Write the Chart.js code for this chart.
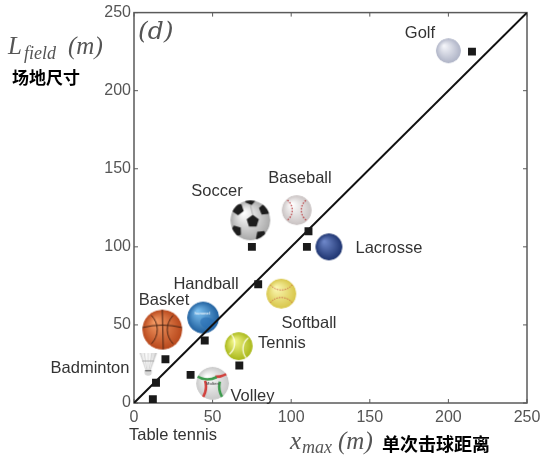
<!DOCTYPE html>
<html lang="en">
	<head>
		<meta http-equiv="content-type" content="text/html; charset=UTF-8">
		<script src="https://cdn.jsdelivr.net/npm/chart.js@4.4.1/dist/chart.umd.min.js"></script>
		<title>Field size vs hit distance</title>
		<style>
			body { margin: 0; background: #fff; }
			#wrap { position: relative; width: 551px; height: 468px; }
		</style>
	</head>
	<body>
		<div id="wrap">
			<canvas id="scatter-chart" width="551" height="468"></canvas>
		</div>
		<script>
			// values (metres)
			var sports = ["Golf", "Baseball", "Soccer", "Lacrosse", "Softball", "Handball", "Basket", "Tennis", "Volley", "Badminton", "Table tennis"];
			var xMax = [215, 111, 75, 110, 79, 45, 20, 67, 36, 14, 12];
			var lField = [225, 110, 100, 100, 76, 40, 28, 24, 18, 13, 2.5];
			// where the ball pictures sit (data units)
			var iconX = [200, 103.5, 74, 124, 93.7, 44, 18, 66.6, 50, 9, 12];
			var iconY = [225.6, 123.5, 117, 100, 70, 54.7, 47, 36.4, 12.6, 25, -9];
			// where the sport names sit (data units)
			var labelX = [181.9, 105.6, 52.8, 162.2, 111.3, 45.8, 19.1, 94.1, 75.4, -28, 24.8];
			var labelY = [236.6, 143.5, 135.2, 98.9, 51, 75.9, 65.7, 38.3, 4.5, 22.3, -21];
			var tickValues = [0, 50, 100, 150, 200, 250];

			var ballTypes = ["golf", "baseball", "soccer", "lacrosse", "softball", "handball", "basket", "tennis", "volley", "shuttle", "pingpong"];
			var ballRadius = { golf: 12.5, baseball: 15, soccer: 20, lacrosse: 13.5, softball: 15, handball: 16, basket: 20, tennis: 14, volley: 16.5, shuttle: 12, pingpong: 11 };

			function sphere(g, r, light, dark) {
				var grad = g.createRadialGradient(-r * 0.35, -r * 0.4, r * 0.05, 0, 0, r);
				grad.addColorStop(0, light);
				grad.addColorStop(1, dark);
				g.fillStyle = grad;
				g.beginPath();
				g.arc(0, 0, r, 0, Math.PI * 2);
				g.fill();
			}

			function pentagon(g, cx, cy, s, rot) {
				g.beginPath();
				for (var i = 0; i < 5; i++) {
					var a = rot + i * Math.PI * 2 / 5;
					var px = cx + s * Math.cos(a), py = cy + s * Math.sin(a);
					if (i == 0) g.moveTo(px, py); else g.lineTo(px, py);
				}
				g.closePath();
				g.fill();
			}

			function makeBall(type) {
				var r = ballRadius[type];
				var c = document.createElement("canvas");
				var w = 2 * r + 4, h = 2 * r + 4;
				if (type == "shuttle") { w = 22; h = 28; }
				c.width = w; c.height = h;
				var g = c.getContext("2d");
				g.translate(w / 2, h / 2);
				if (type == "shuttle") {
					// feather skirt
					var sg = g.createLinearGradient(-9, 0, 9, 0);
					sg.addColorStop(0, "#e4e4e4");
					sg.addColorStop(0.5, "#ffffff");
					sg.addColorStop(1, "#cfcfcf");
					g.fillStyle = sg;
					g.beginPath();
					g.moveTo(-9, -11); g.lineTo(9, -11); g.lineTo(3, 6); g.lineTo(-3, 6); g.closePath();
					g.fill();
					g.strokeStyle = "#bdbdbd"; g.lineWidth = 0.6;
					for (var k = -2; k <= 2; k++) {
						g.beginPath(); g.moveTo(k * 3.8, -11); g.lineTo(k * 1.1, 6); g.stroke();
					}
					g.strokeStyle = "#aaa"; g.lineWidth = 1;
					g.beginPath(); g.moveTo(-6, -3); g.lineTo(6, -3); g.stroke();
					// cork
					g.fillStyle = "#d6d6d6";
					g.beginPath(); g.ellipse(0, 8.5, 3.6, 3.2, 0, 0, Math.PI * 2); g.fill();
					g.fillStyle = "#777";
					g.fillRect(-3.2, 6, 6.4, 1.4);
					return c;
				}
				g.save();
				g.beginPath(); g.arc(0, 0, r, 0, Math.PI * 2); g.clip();
				if (type == "golf") {
					sphere(g, r, "#f4f5fa", "#aeb3c6");
				} else if (type == "baseball") {
					sphere(g, r, "#ffffff", "#c9c2c2");
					g.strokeStyle = "#b8383c"; g.lineWidth = 1.2; g.setLineDash([1.5, 1.5]);
					g.beginPath(); g.arc(-r * 1.15, 0, r * 0.85, -0.9, 0.9); g.stroke();
					g.beginPath(); g.arc(r * 1.15, 0, r * 0.85, Math.PI - 0.9, Math.PI + 0.9); g.stroke();
					g.setLineDash([]);
				} else if (type == "soccer") {
					sphere(g, r, "#ffffff", "#a9a9a9");
					g.fillStyle = "#1d1d1d";
					pentagon(g, r * 0.12, r * 0.05, r * 0.32, -Math.PI / 2);
					pentagon(g, -r * 0.62, -r * 0.55, r * 0.3, 0.3);
					pentagon(g, r * 0.72, -r * 0.55, r * 0.3, -0.4);
					pentagon(g, -r * 0.72, r * 0.55, r * 0.3, 0.6);
					pentagon(g, r * 0.55, r * 0.8, r * 0.3, 0.2);
					pentagon(g, 0, -r * 1.05, r * 0.3, 0.1);
					g.strokeStyle = "#8d8d8d"; g.lineWidth = 0.6;
					g.beginPath(); g.moveTo(r * 0.12, -r * 0.27); g.lineTo(0, -r * 0.75); g.stroke();
				} else if (type == "lacrosse") {
					sphere(g, r, "#6d86c8", "#1e3470");
				} else if (type == "softball") {
					sphere(g, r, "#fbf7b0", "#d8c64a");
					g.strokeStyle = "#c0453a"; g.lineWidth = 1; g.setLineDash([1.2, 1.4]);
					g.beginPath(); g.arc(0, -r * 1.2, r * 0.95, 0.5, Math.PI - 0.5); g.stroke();
					g.beginPath(); g.arc(0, r * 1.2, r * 0.95, Math.PI + 0.5, -0.5); g.stroke();
					g.setLineDash([]);
				} else if (type == "handball") {
					sphere(g, r, "#7cc0f0", "#1f5f9e");
					g.fillStyle = "rgba(40,110,180,0.6)";
					g.beginPath(); g.ellipse(r * 0.3, r * 0.35, r * 0.5, r * 0.35, 0.4, 0, Math.PI * 2); g.fill();
					g.fillStyle = "#e8f2fb"; g.font = "bold 4px 'Liberation Sans'"; g.textAlign = "center";
					g.fillText("hummel", -r * 0.05, -r * 0.2);
				} else if (type == "basket") {
					sphere(g, r, "#f49a64", "#b8481c");
					g.strokeStyle = "#4a2414"; g.lineWidth = 1;
					g.beginPath(); g.moveTo(-r, -r * 0.1); g.quadraticCurveTo(0, -r * 0.35, r, -r * 0.1); g.stroke();
					g.beginPath(); g.moveTo(0, -r); g.lineTo(r * 0.05, r); g.stroke();
					g.beginPath(); g.arc(-r * 1.25, 0, r * 1.0, -0.8, 0.8); g.stroke();
					g.beginPath(); g.arc(r * 1.25, 0, r * 1.0, Math.PI - 0.8, Math.PI + 0.8); g.stroke();
				} else if (type == "tennis") {
					sphere(g, r, "#f4f78a", "#a9b81a");
					g.strokeStyle = "rgba(255,255,240,0.9)"; g.lineWidth = 1.3;
					g.beginPath(); g.arc(-r * 1.3, -r * 0.2, r * 1.0, -0.7, 0.9); g.stroke();
					g.beginPath(); g.arc(r * 1.3, r * 0.2, r * 1.0, Math.PI - 0.7, Math.PI + 0.9); g.stroke();
				} else if (type == "volley") {
					sphere(g, r, "#ffffff", "#c8c8c8");
					g.lineWidth = 2.6;
					g.strokeStyle = "#d2403c";
					g.beginPath(); g.arc(r * 0.2, -r * 1.6, r * 1.2, 0.5, 1.6); g.stroke();
					g.strokeStyle = "#3b9a4c";
					g.beginPath(); g.arc(-r * 0.3, -r * 1.45, r * 1.2, 1.1, 2.2); g.stroke();
					g.strokeStyle = "#3b9a4c";
					g.beginPath(); g.arc(r * 1.6, r * 0.2, r * 1.2, 2.2, 3.4); g.stroke();
					g.strokeStyle = "#d2403c";
					g.beginPath(); g.arc(-r * 1.6, r * 0.2, r * 1.2, -0.3, 0.9); g.stroke();
					g.fillStyle = "#555"; g.font = "bold 4px 'Liberation Sans'"; g.textAlign = "center";
					g.fillText("Molten", 0, 1.5);
				} else if (type == "pingpong") {
					sphere(g, r, "#ffc25c", "#e07d10");
				}
				g.restore();
				return c;
			}

			var ballImages = [];
			for (var i = 0; i < ballTypes.length; i++) {
				ballImages.push(makeBall(ballTypes[i]));
			}

			var squarePoints = [];
			var iconPoints = [];
			for (var i = 0; i < sports.length; i++) {
				squarePoints.push({ x: xMax[i], y: lField[i] });
				iconPoints.push({ x: iconX[i], y: iconY[i] });
			}

			// box, inward ticks, names and axis titles
			var decorations = {
				id: "decorations",
				beforeDatasetsDraw: function (chart) {
					var ctx = chart.ctx, a = chart.chartArea;
					var xs = chart.scales.x, ys = chart.scales.y;
					ctx.save();
					ctx.strokeStyle = "#5a5a5a";
					ctx.lineWidth = 1.5;
					ctx.strokeRect(a.left, a.top, a.right - a.left, a.bottom - a.top);
					ctx.lineWidth = 1;
					for (var i = 0; i < tickValues.length; i++) {
						var px = xs.getPixelForValue(tickValues[i]);
						var py = ys.getPixelForValue(tickValues[i]);
						ctx.beginPath();
						ctx.moveTo(px, a.bottom); ctx.lineTo(px, a.bottom - 4);
						ctx.moveTo(px, a.top); ctx.lineTo(px, a.top + 4);
						ctx.moveTo(a.left, py); ctx.lineTo(a.left + 4, py);
						ctx.moveTo(a.right, py); ctx.lineTo(a.right - 4, py);
						ctx.stroke();
					}
					ctx.restore();
				},
				afterDatasetsDraw: function (chart) {
					var ctx = chart.ctx, a = chart.chartArea;
					var xs = chart.scales.x, ys = chart.scales.y;
					ctx.save();
					ctx.fillStyle = "#333";
					ctx.font = "16.5px 'Liberation Sans'";
					ctx.textAlign = "center";
					ctx.textBaseline = "middle";
					for (var i = 0; i < sports.length; i++) {
						ctx.fillText(sports[i], xs.getPixelForValue(labelX[i]), ys.getPixelForValue(labelY[i]));
					}
					// panel tag
					ctx.fillStyle = "#555";
					ctx.font = "italic 25px 'DejaVu Serif'";
					ctx.textAlign = "left";
					ctx.fillText("(d)", a.left + 4, a.top + 20);
					// y title
					ctx.font = "italic 25px 'Liberation Serif'";
					ctx.fillText("L", 8, 47);
					ctx.font = "italic 18px 'Liberation Serif'";
					ctx.fillText("field", 24, 54);
					ctx.font = "italic 25px 'Liberation Serif'";
					ctx.fillText("(m)", 68, 47);
					ctx.fillStyle = "#000";
					ctx.font = "bold 17px 'Noto Sans CJK SC'";
					ctx.fillText("场地尺寸", 12, 78);
					// x title
					ctx.fillStyle = "#555";
					ctx.font = "italic 25px 'Liberation Serif'";
					ctx.fillText("x", 290, 442);
					ctx.font = "italic 18px 'Liberation Serif'";
					ctx.fillText("max", 302, 448);
					ctx.font = "italic 25px 'Liberation Serif'";
					ctx.fillText("(m)", 338, 442);
					ctx.fillStyle = "#000";
					ctx.font = "bold 18px 'Noto Sans CJK SC'";
					ctx.fillText("单次击球距离", 382, 444);
					ctx.restore();
				}
			};

			var scatterChart = new Chart(document.getElementById("scatter-chart"), {
				type: "scatter",
				data: {
					datasets: [
						{
							label: "Field size",
							data: squarePoints,
							pointStyle: "rect",
							pointRadius: 5.6,
							pointHoverRadius: 5.6,
							backgroundColor: "#1a1a1a",
							borderWidth: 0,
							order: 1
						},
						{
							label: "y = x",
							data: [{ x: 0, y: 0 }, { x: 250, y: 250 }],
							showLine: true,
							borderColor: "#111",
							borderWidth: 2,
							pointRadius: 0,
							order: 2
						},
						{
							label: "Balls",
							data: iconPoints,
							pointStyle: ballImages,
							clip: false,
							order: 3
						}
					]
				},
				options: {
					responsive: false,
					animation: false,
					events: [],
					layout: { padding: { left: 0, right: 24, top: 11, bottom: 0 } },
					plugins: { legend: { display: false }, tooltip: { enabled: false } },
					scales: {
						x: {
							type: "linear",
							min: 0,
							max: 250,
							afterBuildTicks: function (s) { s.ticks = tickValues.map(function (v) { return { value: v }; }); },
							afterFit: function (s) { s.height = 65; },
							grid: { display: false, drawTicks: false },
							border: { display: false },
							ticks: { color: "#555", padding: 5, font: { family: "Liberation Sans", size: 16 } }
						},
						y: {
							type: "linear",
							min: 0,
							max: 250,
							afterBuildTicks: function (s) { s.ticks = tickValues.map(function (v) { return { value: v }; }); },
							afterFit: function (s) { s.width = 134; },
							grid: { display: false, drawTicks: false },
							border: { display: false },
							ticks: { color: "#555", padding: 3, font: { family: "Liberation Sans", size: 16 } }
						}
					}
				},
				plugins: [decorations]
			});
		</script>
	</body>
</html>
